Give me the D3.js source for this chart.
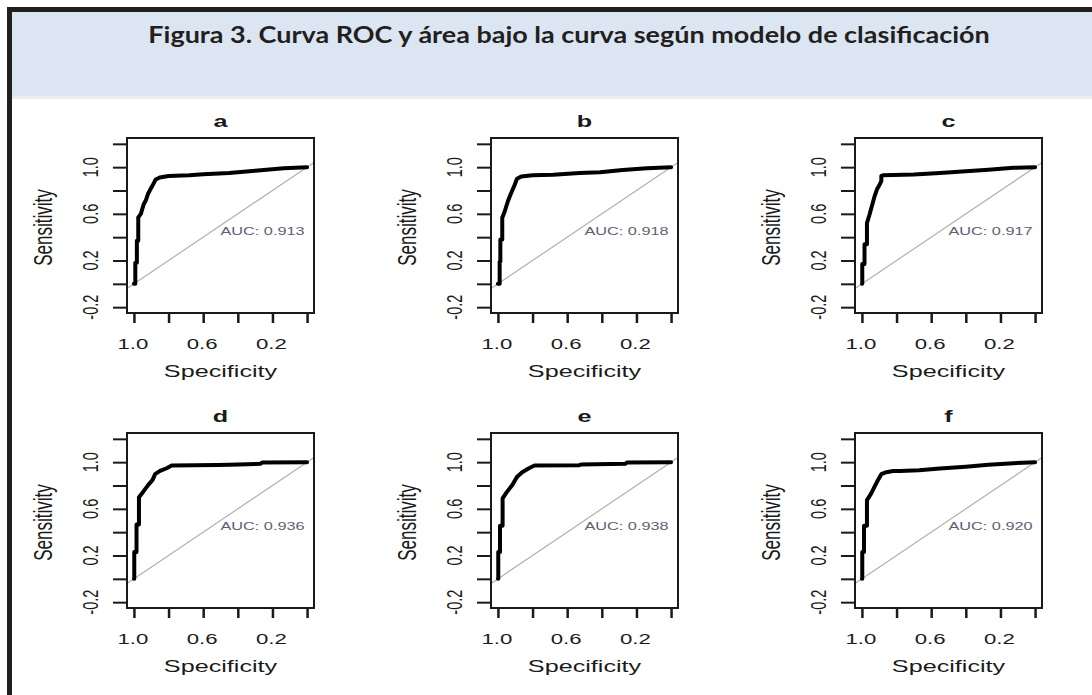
<!DOCTYPE html>
<meta charset="utf-8">
<style>
body { margin: 0; background: #fff; }
svg { display: block; font-family: "Liberation Sans", Arial, sans-serif; }
</style>
<svg width="1092" height="695"></svg>
<script src="https://cdnjs.cloudflare.com/ajax/libs/d3/7.8.5/d3.min.js"></script>
<script>

var svg = d3.select("svg"),
    width = +svg.attr("width"),
    height = +svg.attr("height");

// ---- data ----
var titleText = "Figura 3. Curva ROC y área bajo la curva según modelo de clasificación";
var panelNames = ["a", "b", "c", "d", "e", "f"];
var aucValues = [0.913, 0.918, 0.917, 0.936, 0.938, 0.920];

var specA = [1, 0.992, 0.992, 0.983, 0.983, 0.975, 0.975, 0.96, 0.944, 0.93, 0.919, 0.905, 0.89, 0.874, 0.851, 0.80, 0.68, 0.60, 0.45, 0.30, 0.135, 0];
var sensA = [0, 0, 0.18, 0.18, 0.37, 0.37, 0.57, 0.60, 0.68, 0.72, 0.77, 0.81, 0.85, 0.895, 0.912, 0.925, 0.93, 0.94, 0.95, 0.97, 0.99, 1];

var specB = [1, 0.99, 0.99, 0.986, 0.986, 0.975, 0.975, 0.961, 0.942, 0.923, 0.903, 0.89, 0.865, 0.80, 0.68, 0.53, 0.41, 0.28, 0.14, 0];
var sensB = [0, 0, 0.19, 0.19, 0.38, 0.38, 0.566, 0.62, 0.71, 0.78, 0.85, 0.90, 0.92, 0.93, 0.935, 0.95, 0.957, 0.975, 0.99, 1];

var specC = [1, 0.998, 0.998, 0.985, 0.985, 0.971, 0.971, 0.956, 0.94, 0.927, 0.913, 0.898, 0.888, 0.888, 0.878, 0.70, 0.55, 0.40, 0.27, 0.125, 0];
var sensC = [0, 0, 0.17, 0.17, 0.34, 0.34, 0.52, 0.594, 0.68, 0.75, 0.81, 0.85, 0.88, 0.925, 0.93, 0.937, 0.951, 0.966, 0.977, 0.994, 1];

var specD = [1, 0.998, 0.998, 0.985, 0.985, 0.971, 0.971, 0.946, 0.917, 0.892, 0.878, 0.849, 0.811, 0.782, 0.52, 0.45, 0.27, 0.26, 0];
var sensD = [0, 0, 0.23, 0.23, 0.466, 0.466, 0.70, 0.747, 0.805, 0.848, 0.897, 0.925, 0.948, 0.971, 0.975, 0.978, 0.986, 0.997, 1];

var specE = [1, 0.998, 0.998, 0.988, 0.988, 0.973, 0.973, 0.95, 0.917, 0.889, 0.86, 0.821, 0.789, 0.53, 0.52, 0.265, 0.255, 0];
var sensE = [0, 0, 0.23, 0.23, 0.454, 0.454, 0.69, 0.741, 0.805, 0.876, 0.914, 0.948, 0.971, 0.974, 0.98, 0.986, 0.997, 1];

var specF = [1, 0.998, 0.998, 0.988, 0.988, 0.971, 0.971, 0.946, 0.927, 0.907, 0.888, 0.859, 0.82, 0.78, 0.67, 0.55, 0.40, 0.27, 0.125, 0];
var sensF = [0, 0, 0.23, 0.23, 0.454, 0.454, 0.675, 0.733, 0.79, 0.848, 0.897, 0.914, 0.925, 0.925, 0.93, 0.945, 0.96, 0.977, 0.991, 1];

var specs = [specA, specB, specC, specD, specE, specF];
var senss = [sensA, sensB, sensC, sensD, sensE, sensF];

var xTicks = [1.0, 0.8, 0.6, 0.4, 0.2, 0.0];
var xLabeled = [1.0, 0.6, 0.2];
var yTicks = [-0.2, 0.0, 0.2, 0.4, 0.6, 0.8, 1.0, 1.2];
var yLabeled = [-0.2, 0.2, 0.6, 1.0];

// ---- layout ----
var boxLeft = [127, 491, 855], boxTop = [138, 433];
var boxW = 187, boxH = 175;
var stretch = 1.48; // the figure is widened horizontally
var ink = "#1a1a1a";

// frame + title band
svg.append("rect").attr("x", 12).attr("y", 12).attr("width", width - 12).attr("height", 84).attr("fill", "#dbe6f2");
svg.append("rect").attr("x", 12).attr("y", 96).attr("width", width - 12).attr("height", 3).attr("fill", "#eceef0");
svg.append("rect").attr("x", 7).attr("y", 7).attr("width", 5).attr("height", height - 7).attr("fill", "#231f20");
svg.append("rect").attr("x", 7).attr("y", 7).attr("width", width - 7).attr("height", 5).attr("fill", "#231f20");

var title = svg.append("text")
    .attr("text-anchor", "middle")
    .style("font-family", "Lato, 'Open Sans', sans-serif")
    .style("font-weight", "bold")
    .style("font-size", "23px")
    .attr("fill", "#231f20")
    .text(titleText);
var tw = title.node().getComputedTextLength();
title.attr("transform", "translate(569,43) scale(" + (842 / tw) + ",1)");

panelNames.forEach(function(name, i) {
  var left = boxLeft[i % 3], top = boxTop[Math.floor(i / 3)];
  var x = d3.scaleLinear().domain([1.04, -0.04]).range([left, left + boxW]);
  var y = d3.scaleLinear().domain([-0.25, 1.25]).range([top + boxH, top]);
  var g = svg.append("g");

  // x axis ticks
  g.append("g")
      .attr("transform", "translate(0," + (top + boxH) + ")")
      .call(d3.axisBottom(x).tickValues(xTicks).tickSize(10).tickSizeOuter(0).tickFormat(""))
      .call(function(a) { a.select(".domain").remove(); })
      .selectAll("line").attr("stroke", ink).attr("stroke-width", 2.5);

  // y axis ticks
  g.append("g")
      .attr("transform", "translate(" + left + ",0)")
      .call(d3.axisLeft(y).tickValues(yTicks).tickSize(14).tickSizeOuter(0).tickFormat(""))
      .call(function(a) { a.select(".domain").remove(); })
      .selectAll("line").attr("stroke", ink).attr("stroke-width", 2);

  g.selectAll(".xl").data(xLabeled).enter().append("text")
      .attr("text-anchor", "middle")
      .attr("transform", function(d) { return "translate(" + (x(d) - 1) + "," + (top + boxH + 36) + ") scale(" + stretch + ",1)"; })
      .style("font-size", "15px").attr("fill", ink)
      .text(function(d) { return d.toFixed(1); });

  g.selectAll(".yl").data(yLabeled).enter().append("text")
      .attr("text-anchor", "middle")
      .attr("transform", function(d) { return "translate(" + (left - 29) + "," + y(d) + ") scale(" + stretch + ",1) rotate(-90)"; })
      .style("font-size", "14.5px").attr("fill", ink)
      .text(function(d) { return d.toFixed(1); });

  // axis titles
  g.append("text")
      .attr("text-anchor", "middle")
      .attr("transform", "translate(" + (left + boxW / 2) + "," + (top + boxH + 64) + ") scale(" + stretch + ",1)")
      .style("font-size", "17px").attr("fill", ink)
      .text("Specificity");
  g.append("text")
      .attr("text-anchor", "middle")
      .attr("transform", "translate(" + (left - 75) + "," + (top + boxH / 2 + 2) + ") scale(" + stretch + ",1) rotate(-90)")
      .style("font-size", "17px").attr("fill", ink)
      .text("Sensitivity");

  // panel letter
  g.append("text")
      .attr("text-anchor", "middle")
      .attr("transform", "translate(" + (left + boxW / 2) + "," + (top - 11) + ") scale(" + stretch + ",1)")
      .style("font-size", "17px").style("font-weight", "bold").attr("fill", ink)
      .text(name);

  // chance diagonal
  g.append("line")
      .attr("x1", x(1.04)).attr("y1", y(-0.04))
      .attr("x2", x(-0.04)).attr("y2", y(1.04))
      .attr("stroke", "#b0b0b0").attr("stroke-width", 1.2);

  // ROC curve
  var pts = d3.zip(specs[i], senss[i]);
  g.append("path")
      .datum(pts)
      .attr("fill", "none")
      .attr("stroke", "#000")
      .attr("stroke-width", 4)
      .attr("stroke-linejoin", "round")
      .attr("stroke-linecap", "round")
      .attr("d", d3.line().x(function(d) { return x(d[0]); }).y(function(d) { return y(d[1]); }));

  // AUC label
  g.append("text")
      .attr("transform", "translate(" + x(0.5) + "," + (y(0.5) + 9.5) + ") scale(" + stretch + ",1)")
      .style("font-size", "11px").attr("fill", "#5e5e72")
      .text("AUC: " + aucValues[i].toFixed(3));

  // plot box
  g.append("rect")
      .attr("x", left).attr("y", top).attr("width", boxW).attr("height", boxH)
      .attr("fill", "none").attr("stroke", ink).attr("stroke-width", 2);
});

</script>
